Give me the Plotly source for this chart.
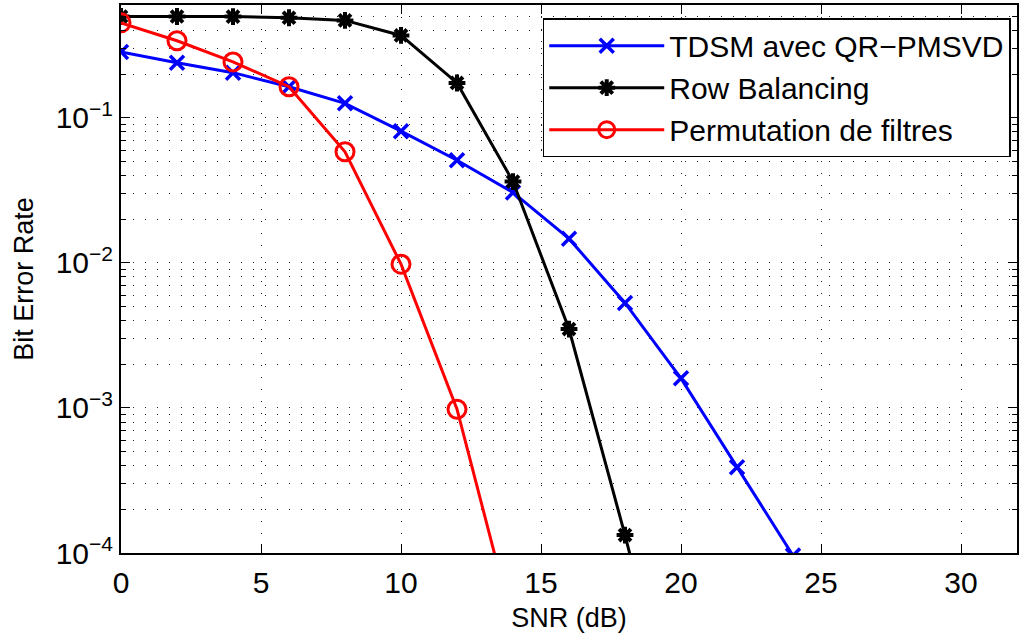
import plotly.graph_objects as go

# SNR (dB) and BER
snr_tdsm = [0, 2, 4, 6, 8, 10, 12, 14, 16, 18, 20, 22, 24]
ber_tdsm = [0.285, 0.240, 0.205, 0.164, 0.126, 0.081, 0.051, 0.0306,
            0.0147, 0.0053, 0.0016, 3.9e-4, 9.6e-5]

snr_row = [0, 2, 4, 6, 8, 10, 12, 14, 16, 18, 20]
ber_row = [0.50, 0.50, 0.499, 0.49, 0.47, 0.37, 0.174, 0.0364,
           0.0035, 1.33e-4, 4.0e-6]

snr_perm = [0, 2, 4, 6, 8, 10, 12, 14]
ber_perm = [0.452, 0.34, 0.243, 0.164, 0.0584, 0.0098, 9.8e-4, 3.2e-5]

x_ticks = [0, 5, 10, 15, 20, 25, 30]
y_ticks = [1e-4, 1e-3, 1e-2, 1e-1]
y_ticktext = ['10<sup>\u22124</sup>', '10<sup>\u22123</sup>',
              '10<sup>\u22122</sup>', '10<sup>\u22121</sup>']
y_minor = [k * 10.0 ** e for e in range(-4, 0) for k in range(2, 10) if k * 10.0 ** e < 0.6]

FONT = 'Liberation Sans, Arial, sans-serif'

fig = go.Figure()
fig.add_trace(go.Scatter(
    name='TDSM avec QR\u2212PMSVD', x=snr_tdsm, y=ber_tdsm, mode='lines+markers',
    line=dict(color='#0000ff', width=3),
    marker=dict(symbol='x-thin-open', size=14, line=dict(color='#0000ff', width=3.5))
))
fig.add_trace(go.Scatter(
    name='Row Balancing', x=snr_row, y=ber_row, mode='lines+markers',
    line=dict(color='black', width=3),
    marker=dict(symbol='asterisk-open', size=14, line=dict(color='black', width=4))
))
fig.add_trace(go.Scatter(
    name='Permutation de filtres', x=snr_perm, y=ber_perm, mode='lines+markers',
    line=dict(color='#ff0000', width=3),
    marker=dict(symbol='circle-open', size=18, line=dict(color='#ff0000', width=3))
))

grid = dict(gridcolor='#222222', gridwidth=1, griddash='1px,11px')

fig.update_layout(
    width=1019, height=633,
    margin=dict(l=121, r=2, t=5, b=80),
    plot_bgcolor='white',
    paper_bgcolor='white',
    font=dict(family=FONT, color='black', size=30),
    showlegend=True,
    legend=dict(
        x=0.993, xanchor='right', y=0.976, yanchor='top',
        bgcolor='white', bordercolor='black', borderwidth=1.5,
        font=dict(size=30), itemwidth=115, tracegroupgap=0
    ),
    xaxis=dict(
        range=[0, 32], tickvals=x_ticks, ticks='inside', ticklen=9,
        tickwidth=1, tickcolor='black', showline=True, linecolor='black',
        linewidth=2, mirror='ticks', zeroline=False, showgrid=True, **grid,
        title=dict(text='SNR (dB)', font=dict(size=27), standoff=18),
        tickfont=dict(size=30), ticklabelstandoff=2, automargin=False
    ),
    yaxis=dict(
        type='log', range=[-4, -0.2218], tickvals=y_ticks, ticktext=y_ticktext,
        ticks='inside', ticklen=9, tickwidth=1, tickcolor='black',
        showline=True, linecolor='black', linewidth=2, mirror='ticks',
        zeroline=False, showgrid=True, **grid,
        minor=dict(tickvals=y_minor, ticks='inside', ticklen=5, tickcolor='black',
                   showgrid=True, **grid),
        title=dict(text='Bit Error Rate', font=dict(size=27), standoff=14),
        tickfont=dict(size=30), automargin=False
    )
)

# drop the browser's default body margin so the figure sits at the page origin
fig.write_html('out.html', config={'displayModeBar': False},
               post_script="document.body.style.margin = '0';")
